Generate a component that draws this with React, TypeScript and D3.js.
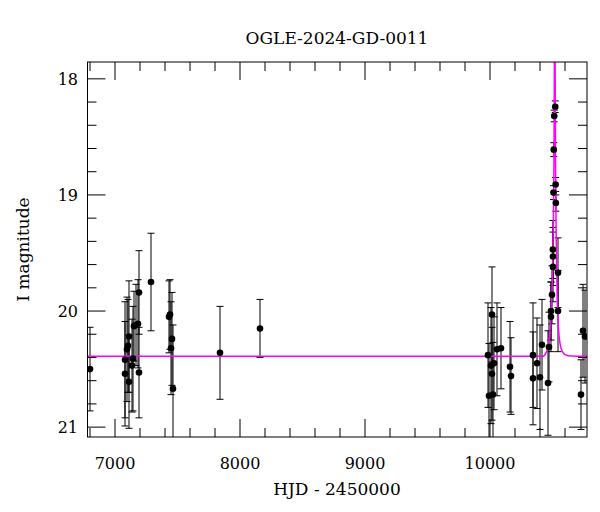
import * as d3 from "d3"

// photometry
const hjd = [
  6800, 7080, 7080, 7096, 7104, 7112, 7112, 7136, 7144, 7152, 7168, 7184, 7192, 7192,
  7288, 7432, 7440, 7456, 7448, 7464, 7840, 8160,
  9984, 9992, 10008, 10016, 10016, 10024, 10032, 10056, 10088, 10160, 10168,
  10344, 10344, 10376, 10400, 10416, 10464, 10472, 10488, 10488, 10496, 10504, 10504,
  10544, 10544, 10744, 10760, 10728,
  10522, 10514, 10510, 10525, 10508, 10527, 10503
]
const mag = [
  20.5, 20.54, 20.42, 20.33, 20.3, 20.22, 20.61, 20.47, 20.41, 20.13, 20.12, 20.11, 19.84, 20.53,
  19.75, 20.05, 20.03, 20.24, 20.32, 20.67, 20.36, 20.15,
  20.38, 20.73, 20.47, 20.54, 20.03, 20.72, 20.45, 20.33, 20.32, 20.48, 20.56,
  20.38, 20.58, 20.45, 20.57, 20.29, 20.62, 20.31, 20.05, 20.0, 19.86, 19.62, 19.53,
  20.0, 19.67, 20.17, 20.22, 20.72,
  18.24, 18.32, 18.61, 18.91, 18.98, 19.07, 19.47
]
const err = [
  0.36, 0.45, 0.5, 0.45, 0.4, 0.48, 0.4, 0.4, 0.45, 0.3, 0.35, 0.38, 0.36, 0.39,
  0.42, 0.31, 0.3, 0.4, 0.4, 0.55, 0.4, 0.25,
  0.45, 0.45, 0.5, 0.4, 0.41, 0.45, 0.4, 0.4, 0.35, 0.39, 0.33,
  0.45, 0.4, 0.39, 0.45, 0.39, 0.45, 0.3, 0.3, 0.25, 0.25, 0.3, 0.25,
  0.35, 0.3, 0.4, 0.4, 0.3,
  0.05, 0.05, 0.06, 0.06, 0.06, 0.07, 0.25
]

// model curve (magenta)
const modelHjd = [6780, 10420, 10448, 10464, 10476, 10488, 10498, 10506, 10512, 10518, 10524, 10530, 10538, 10548, 10562, 10580, 10600, 10650, 10780]
const modelMag = [20.39, 20.39, 20.36, 20.31, 20.22, 20.05, 19.75, 19.3, 18.7, 17.2, 18.7, 19.4, 19.9, 20.15, 20.29, 20.35, 20.375, 20.388, 20.39]

const xMajor = [7000, 8000, 9000, 10000]
const yMajor = [18, 19, 20, 21]

const W = 600
const H = 512
const left = 87.5
const right = 587
const top = 62
const bottom = 437
const font = "'DejaVu Serif', serif"

const App = () => {
  const x = d3.scaleLinear().domain([6780, 10776]).range([left, right])
  const y = d3.scaleLinear().domain([17.855, 21.085]).range([top, bottom])

  const xMinor = d3.range(6800, 10776, 200).filter(v => v % 1000 !== 0)
  const yMinor = d3.range(18, 21.08, 0.2).map(v => +v.toFixed(1)).filter(v => v % 1 !== 0)

  const line = d3
    .line<number>()
    .x((_d, i) => x(modelHjd[i]))
    .y(d => y(d))
    .curve(d3.curveMonotoneX)

  const cap = 3.5
  const big = 18
  const small = 9

  return (
    <svg
      width={W}
      height={H}
      style={{ position: "absolute", left: 0, top: 0, background: "#fff" }}
      fontFamily={font}
    >
      <defs>
        <clipPath id="plot">
          <rect x={left} y={top} width={right - left} height={bottom - top} />
        </clipPath>
      </defs>

      <g clipPath="url(#plot)">
        {/* error bars */}
        {hjd.map((h, i) => {
          const px = x(h)
          const y1 = y(mag[i] - err[i])
          const y2 = y(mag[i] + err[i])
          return (
            <g key={"e" + i} stroke="#000" strokeWidth={1}>
              <line x1={px} x2={px} y1={y1} y2={y2} />
              <line x1={px - cap} x2={px + cap} y1={y1} y2={y1} />
              <line x1={px - cap} x2={px + cap} y1={y2} y2={y2} />
            </g>
          )
        })}
        <path d={line(modelMag) || ""} fill="none" stroke="#ff00ff" strokeWidth={1.5} />
        {hjd.map((h, i) => (
          <circle key={"p" + i} cx={x(h)} cy={y(mag[i])} r={3.3} fill="#000" />
        ))}
      </g>

      {/* ticks, all four sides, pointing in */}
      <g stroke="#000" strokeWidth={1}>
        {xMajor.map(v => (
          <g key={"xm" + v}>
            <line x1={x(v)} x2={x(v)} y1={bottom} y2={bottom - big} />
            <line x1={x(v)} x2={x(v)} y1={top} y2={top + big} />
          </g>
        ))}
        {xMinor.map(v => (
          <g key={"xn" + v}>
            <line x1={x(v)} x2={x(v)} y1={bottom} y2={bottom - small} />
            <line x1={x(v)} x2={x(v)} y1={top} y2={top + small} />
          </g>
        ))}
        {yMajor.map(v => (
          <g key={"ym" + v}>
            <line x1={left} x2={left + big} y1={y(v)} y2={y(v)} />
            <line x1={right} x2={right - big} y1={y(v)} y2={y(v)} />
          </g>
        ))}
        {yMinor.map(v => (
          <g key={"yn" + v}>
            <line x1={left} x2={left + small} y1={y(v)} y2={y(v)} />
            <line x1={right} x2={right - small} y1={y(v)} y2={y(v)} />
          </g>
        ))}
      </g>

      <rect x={left} y={top} width={right - left} height={bottom - top} fill="none" stroke="#000" strokeWidth={1} />

      {xMajor.map(v => (
        <text key={"xl" + v} x={x(v)} y={469} textAnchor="middle" fontSize={16}>
          {v}
        </text>
      ))}
      {yMajor.map(v => (
        <text key={"yl" + v} x={78} y={y(v) + 6} textAnchor="end" fontSize={16}>
          {v}
        </text>
      ))}

      <text x={337} y={44} textAnchor="middle" fontSize={17}>
        OGLE-2024-GD-0011
      </text>
      <text x={337} y={495} textAnchor="middle" fontSize={17}>
        HJD - 2450000
      </text>
      <text transform={`translate(29,${(top + bottom) / 2}) rotate(-90)`} textAnchor="middle" fontSize={17}>
        I magnitude
      </text>
    </svg>
  )
}

export default App
